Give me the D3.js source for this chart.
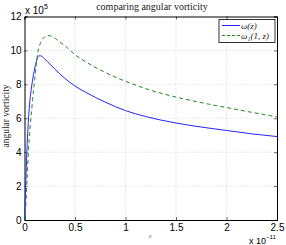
<!DOCTYPE html>
<html>
<head>
<meta charset="utf-8">
<script src="https://cdn.jsdelivr.net/npm/d3@7"></script>
<style>
  body { margin: 0; background: #fff; }
  svg { display: block; }
  .tick text { font-family: "Liberation Sans", Arial, sans-serif; font-size: 10px; fill: #000; }
  .serif { font-family: "Liberation Serif", "DejaVu Serif", serif; }
</style>
</head>
<body>
<svg id="svg" width="286" height="245"></svg>
<script>
// omega(z) (blue, solid), units: x1e5 vs z x1e-11
const zBlue = [0, 0.01, 0.02, 0.03, 0.04, 0.05, 0.06, 0.07, 0.08, 0.1, 0.12, 0.14, 0.16, 0.2, 0.25, 0.3, 0.4, 0.5, 0.6, 0.8, 1.0, 1.2, 1.5, 1.75, 2.0, 2.25, 2.5];
const wBlue = [0, 1.8, 3.5, 4.9, 6.0, 6.8, 7.4, 7.85, 8.25, 8.9, 9.4, 9.68, 9.68, 9.5, 9.2, 8.9, 8.35, 7.9, 7.55, 6.95, 6.45, 6.1, 5.72, 5.48, 5.28, 5.08, 4.92];

// omega_1(1,z) (green, dashed)
const zGreen = [0.005, 0.01, 0.02, 0.03, 0.04, 0.05, 0.06, 0.07, 0.08, 0.1, 0.115, 0.13, 0.15, 0.17, 0.2, 0.23, 0.28, 0.35, 0.435, 0.5, 0.6, 0.8, 1.0, 1.25, 1.5, 1.75, 2.0, 2.25, 2.5];
const wGreen = [0, 0.5, 1.8, 3.0, 4.2, 5.1, 5.8, 6.4, 7.1, 8.2, 9.1, 9.8, 10.3, 10.6, 10.8, 10.88, 10.8, 10.5, 10.1, 9.75, 9.35, 8.7, 8.18, 7.65, 7.25, 6.92, 6.63, 6.35, 6.08];

const xTicks = [0, 0.5, 1, 1.5, 2, 2.5];
const yTicks = [0, 2, 4, 6, 8, 10, 12];
const seriesNames = ["ω(z)", "ω₁(1, z)"];

const svg = d3.select("#svg");
const pL = 24.5, pR = 277, pT = 16.5, pB = 220;

const x = d3.scaleLinear().domain([0, 2.5]).range([pL, pR]);
const y = d3.scaleLinear().domain([0, 12]).range([pB, pT]);

// grid
const grid = svg.append("g");
grid.selectAll(".gx").data(xTicks.slice(1, -1)).enter().append("line")
  .attr("x1", d => x(d)).attr("x2", d => x(d))
  .attr("y1", pT).attr("y2", pB)
  .attr("stroke", "#bbb").attr("stroke-width", 0.6).attr("stroke-dasharray", "1,2");
grid.selectAll(".gy").data(yTicks.slice(1, -1)).enter().append("line")
  .attr("y1", d => y(d)).attr("y2", d => y(d))
  .attr("x1", pL).attr("x2", pR)
  .attr("stroke", "#bbb").attr("stroke-width", 0.6).attr("stroke-dasharray", "1,2");

// axes (ticks inward)
svg.append("g").attr("transform", `translate(0,${pB})`)
  .call(d3.axisBottom(x).tickValues(xTicks).tickSize(-3).tickPadding(4).tickFormat(d3.format("")));
svg.append("g").attr("transform", `translate(${pL},0)`)
  .call(d3.axisLeft(y).tickValues(yTicks).tickSize(-3).tickPadding(3).tickFormat(d3.format("")));
svg.append("g").attr("transform", `translate(0,${pT})`)
  .call(d3.axisTop(x).tickValues(xTicks).tickSize(-3).tickFormat(""));
svg.append("g").attr("transform", `translate(${pR},0)`)
  .call(d3.axisRight(y).tickValues(yTicks).tickSize(-3).tickFormat(""));
svg.selectAll(".domain").attr("stroke", "#000").attr("stroke-width", 1);
svg.selectAll(".tick line").attr("stroke", "#000").attr("stroke-width", 0.6);

// curves
const line = d3.line().x(d => x(d[0])).y(d => y(d[1])).curve(d3.curveMonotoneX);
svg.append("path").datum(zBlue.map((z, i) => [z, wBlue[i]]))
  .attr("d", line).attr("fill", "none").attr("stroke", "#2424ff").attr("stroke-width", 1);
svg.append("path").datum(zGreen.map((z, i) => [z, wGreen[i]]))
  .attr("d", line).attr("fill", "none").attr("stroke", "#1a8f1a").attr("stroke-width", 1)
  .attr("stroke-dasharray", "4,3");

// exponent labels
const exp5 = svg.append("text").attr("x", 25).attr("y", 14)
  .attr("font-family", "Liberation Sans, Arial, sans-serif").attr("font-size", 10);
exp5.append("tspan").text("x 10");
exp5.append("tspan").attr("dy", -5).attr("font-size", 7).text("5");

const expX = svg.append("text").attr("x", 249).attr("y", 244)
  .attr("font-family", "Liberation Sans, Arial, sans-serif").attr("font-size", 9);
expX.append("tspan").text("x 10");
expX.append("tspan").attr("dy", -5).attr("font-size", 6).text("−11");

// title and labels
svg.append("text").attr("class", "serif").attr("x", 152).attr("y", 10)
  .attr("text-anchor", "middle").attr("font-size", 10).attr("fill", "#222")
  .text("comparing angular vorticity");
svg.append("text").attr("class", "serif")
  .attr("transform", "translate(9,116) rotate(-90)")
  .attr("text-anchor", "middle").attr("font-size", 9.5).attr("fill", "#222")
  .text("angular vorticity");
svg.append("text").attr("class", "serif").attr("x", 150).attr("y", 238)
  .attr("text-anchor", "middle").attr("font-size", 7).attr("font-style", "italic")
  .attr("fill", "#777").text("z");

// legend
const lg = svg.append("g");
lg.append("rect").attr("x", 219).attr("y", 19.5).attr("width", 56).attr("height", 23)
  .attr("fill", "#fff").attr("stroke", "#000").attr("stroke-width", 0.8);
const legendColors = ["#2424ff", "#1a8f1a"];
const legendDash = [null, "3,2"];
seriesNames.forEach((name, i) => {
  const ly = 25.5 + i * 10;
  lg.append("line").attr("x1", 222).attr("x2", 240).attr("y1", ly).attr("y2", ly)
    .attr("stroke", legendColors[i]).attr("stroke-width", 1)
    .attr("stroke-dasharray", legendDash[i]);
  lg.append("text").attr("class", "serif").attr("x", 241).attr("y", ly + 3)
    .attr("font-size", 9).attr("font-style", "italic").attr("fill", "#222").text(name);
});
</script>
</body>
</html>
